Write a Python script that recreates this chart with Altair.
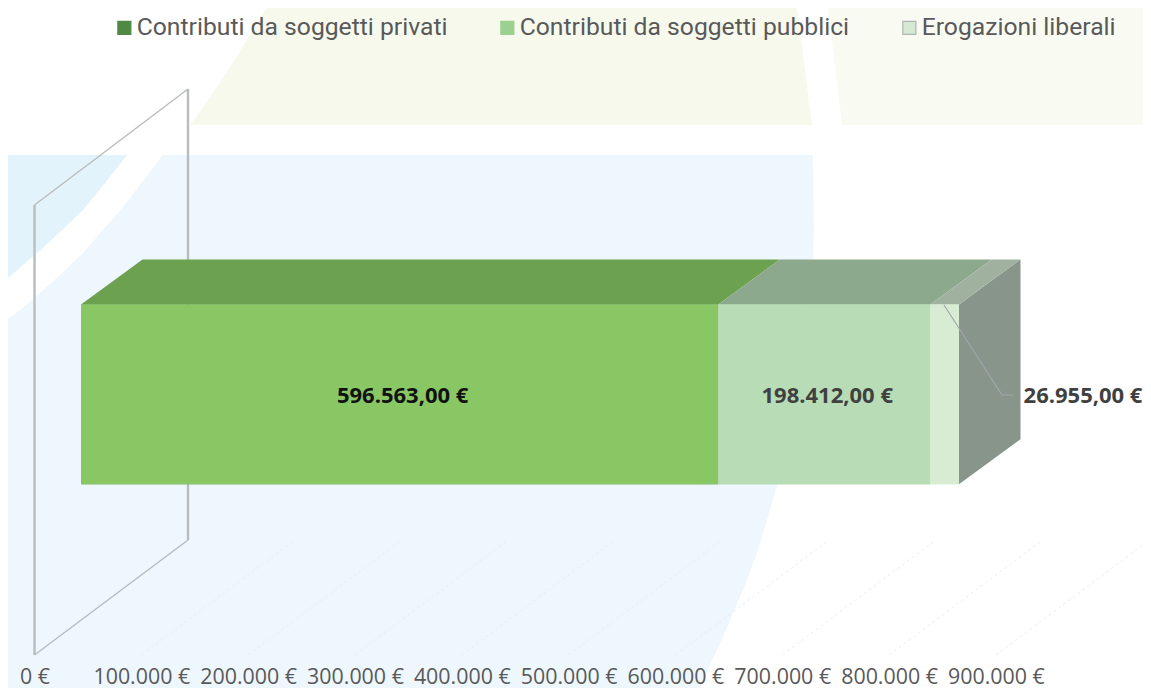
import altair as alt
import pandas as pd

# ---- chart values
series = ["Contributi da soggetti privati", "Contributi da soggetti pubblici", "Erogazioni liberali"]
values = [596563, 198412, 26955]
ticks = [0, 100000, 200000, 300000, 400000, 500000, 600000, 700000, 800000, 900000]

# ---- colours
front_cols = ["#88c764", "#b8dcb6", "#d8ecd4"]
top_cols = ["#6ca150", "#8ca88d", "#a0b1a0"]
side_col = "#88958b"
legend_fill = ["#4f8a45", "#9ad18f", "#d6ead3"]
legend_stroke = ["#4f8a45", "#9ad18f", "#b0b4b2"]

# ---- layout
W, H, PB = 1135, 660, 20
EUR_PX = 0.0010682       # pixels per euro
X0_PAGE = 81.0           # page x of 0 euro on the front plane
Y0_PAGE, UNIT_PX = 484.3, 179.8


def ex(p):
    return (p - X0_PAGE) / EUR_PX


def ey(p):
    return (Y0_PAGE - p) / UNIT_PX


xs = alt.Scale(domain=[ex(8), ex(8 + W)], range=[0, W], nice=False, zero=False)
ys = alt.Scale(domain=[ey(8 + H), ey(8)], range=[H, 0], nice=False, zero=False)
DX, DY = 61.5 / EUR_PX, 45.0 / UNIT_PX
FLOOR = {"dx0": -46.5 / EUR_PX, "dx1": 107 / EUR_PX, "y0": ey(655), "y1": ey(540)}

x_axis = alt.Axis(
    values=ticks, title=None, domain=False, ticks=False, grid=False, labelOverlap=False,
    labelFlush=False, labelBound=False, labelFont="Open Sans", labelFontSize=21.4, labelColor="#595959",
    labelOffset=-46.5, labelPadding=-2, zindex=1,
    labelExpr="datum.value == 0 ? '0 €' : format(datum.value / 1000, 'd') + '.000 €'",
)


def enc_xy():
    return dict(
        x=alt.X("x:Q", scale=xs, axis=x_axis),
        y=alt.Y("y:Q", scale=ys, axis=None),
        order=alt.Order("i:Q"),
    )


def poly(points, fill):
    df = pd.DataFrame({"x": [p[0] for p in points], "y": [p[1] for p in points], "i": range(len(points))})
    return alt.Chart(df).mark_line(fill=fill, strokeWidth=0, interpolate="linear-closed", clip=False).encode(**enc_xy())


def path(points, color, width, dash=None):
    df = pd.DataFrame({"x": [p[0] for p in points], "y": [p[1] for p in points], "i": range(len(points))})
    kw = dict(color=color, strokeWidth=width)
    if dash:
        kw["strokeDash"] = dash
    return alt.Chart(df).mark_line(**kw).encode(**enc_xy())


def deco(pts):
    return [(ex(a), ey(b)) for a, b in pts]


layers = []

# ---- page decoration behind the chart
layers.append(poly(deco([(266, 8), (256, 25), (245, 43), (231, 66), (217, 87), (204, 106), (190, 125), (812, 125), (797, 8)]), "#f7f9ed"))
layers.append(poly(deco([(828, 8), (842, 125), (1143, 125), (1143, 8)]), "#f9fbf3"))
layers.append(poly(deco([(8, 155), (127, 155), (105, 183), (83, 210), (60, 232), (37, 253), (8, 278)]), "#e2f3fb"))
layers.append(poly(deco([(163, 155), (813, 155), (814, 230), (813, 258), (777, 485), (767, 520), (757, 553),
                         (745, 585), (733, 613), (718, 648), (703, 680), (700, 688), (8, 688), (8, 319),
                         (20, 310), (40, 293), (62, 273), (83, 253), (103, 230), (123, 207), (143, 181)]), "#eef7fd"))

# ---- floor grid
for t in ticks[1:]:
    layers.append(path([(t + FLOOR["dx0"], FLOOR["y0"]), (t + FLOOR["dx1"], FLOOR["y1"])], "#e9eef1", 1, dash=[3, 3]))

# ---- wall
wf_top, wb_top = ey(205), ey(89)
layers.append(path([(FLOOR["dx0"], FLOOR["y0"]), (FLOOR["dx0"], wf_top)], "#b9bcbd", 2.4))
layers.append(path([(FLOOR["dx1"], FLOOR["y1"]), (FLOOR["dx1"], wb_top)], "#b9bcbd", 2.4))
layers.append(path([(FLOOR["dx0"], wf_top), (FLOOR["dx1"], wb_top)], "#b9bcbd", 1.4))
layers.append(path([(FLOOR["dx0"], FLOOR["y0"]), (FLOOR["dx1"], FLOOR["y1"])], "#b9bcbd", 1.4))

# ---- segments
starts = [sum(values[:i]) for i in range(3)]
ends = [sum(values[:i + 1]) for i in range(3)]
seg = pd.DataFrame({"series": series, "start": starts, "end": ends, "lo": [0] * 3, "hi": [1] * 3})

legend = alt.Legend(
    orient="none", legendX=104, legendY=7, direction="horizontal", title=None,
    symbolType="square", symbolSize=169, symbolStrokeWidth=1.2, symbolOpacity=1,
    labelFont="Roboto", labelFontSize=24.7, labelColor="#595959", labelOffset=0,
    columnPadding=47, padding=0, labelLimit=500,
)

# bars carrying the legend (legend colours differ from the shaded bars, so real faces cover them)
layers.append(
    alt.Chart(seg).mark_rect(strokeWidth=0).encode(
        x=alt.X("start:Q", scale=xs, axis=x_axis), x2="end:Q",
        y=alt.Y("lo:Q", scale=ys, axis=None), y2="hi:Q",
        fill=alt.Fill("series:N", scale=alt.Scale(domain=series, range=legend_fill), sort=series, legend=legend),
        stroke=alt.Stroke("series:N", scale=alt.Scale(domain=series, range=legend_stroke), sort=series, legend=legend),
    )
)

# side face
last = ends[-1]
layers.append(poly([(last, 0), (last + DX, DY), (last + DX, 1 + DY), (last, 1)], side_col))

# top and front faces
for s, e, tc, fc in zip(starts, ends, top_cols, front_cols):
    layers.append(poly([(s, 1), (s + DX, 1 + DY), (e + DX, 1 + DY), (e, 1)], tc))
    layers.append(poly([(s, 0), (s, 1), (e, 1), (e, 0)], fc))

# ---- leader line
layers.append(path(deco([(944, 305), (1002, 395), (1013, 395)]), "#a3a6ad", 1.2))

# ---- data labels


def it_eur(v):
    return f"{v:,.2f}".replace(",", "#").replace(".", ",").replace("#", ".") + " €"


lab = pd.DataFrame({
    "x": [(starts[0] + ends[0]) / 2 + 3 / EUR_PX, (starts[1] + ends[1]) / 2 + 3 / EUR_PX, ex(1083)],
    "y": [ey(396)] * 3,
    "t": [it_eur(v) for v in values],
    "c": ["#111111", "#404040", "#404040"],
})
layers.append(
    alt.Chart(lab).mark_text(font="Open Sans", fontWeight="bold", fontSize=22, baseline="middle", align="center").encode(
        x=alt.X("x:Q", scale=xs, axis=x_axis),
        y=alt.Y("y:Q", scale=ys, axis=None),
        text="t:N",
        color=alt.Color("c:N", scale=None),
    )
)

chart = (
    alt.layer(*layers)
    .resolve_scale(x="shared", y="shared")
    .properties(
        width=W, height=H,
        padding={"left": 0, "top": 0, "right": 0, "bottom": PB},
        autosize=alt.AutoSizeParams(type="none"),
    )
    .configure_view(stroke=None)
)

chart.save("out.html", embed_options={"renderer": "svg", "actions": False})
